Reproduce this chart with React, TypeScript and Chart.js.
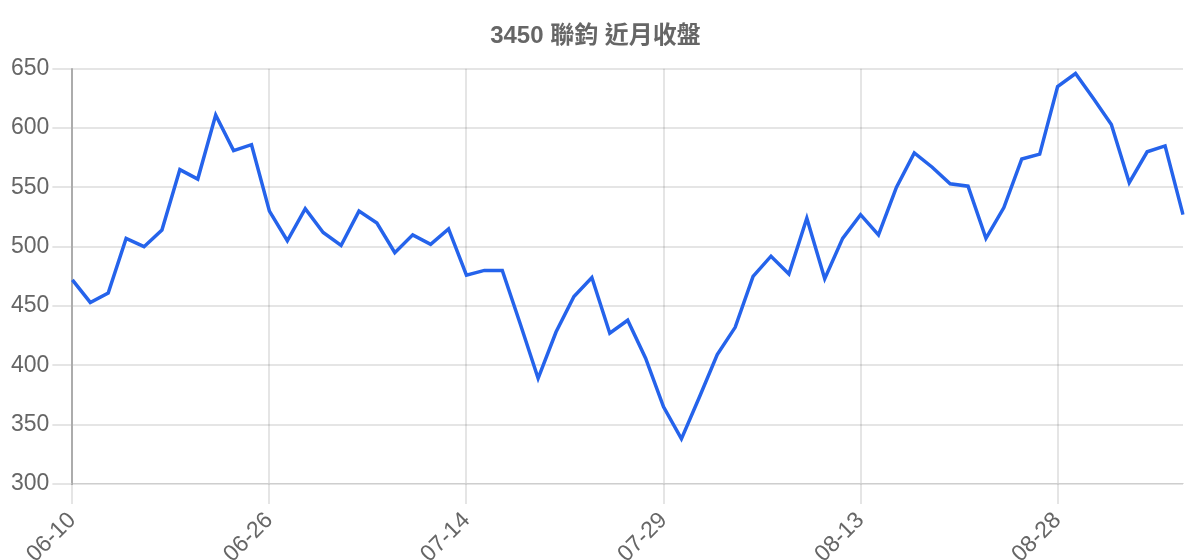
import { useEffect, useRef } from "react";
import Chart from "chart.js/auto";

const title = "3450 聯鈞 近月收盤";

const dates = [
  "06-10", "06-11", "06-12", "06-13", "06-16", "06-17", "06-18", "06-19", "06-20", "06-23", "06-24",
  "06-26", "06-27", "06-30", "07-01", "07-02", "07-03", "07-04", "07-07", "07-08", "07-09", "07-11",
  "07-14", "07-15", "07-16", "07-17", "07-18", "07-21", "07-22", "07-23", "07-24", "07-25", "07-28",
  "07-29", "07-30", "07-31", "08-01", "08-04", "08-05", "08-06", "08-07", "08-08", "08-11", "08-12",
  "08-13", "08-14", "08-15", "08-18", "08-19", "08-20", "08-21", "08-22", "08-25", "08-26", "08-27",
  "08-28", "08-29", "09-01", "09-02", "09-03", "09-04", "09-05", "09-08",
];

const closes = [
  472, 453, 461, 507, 500, 514, 565, 557, 611, 581, 586,
  530, 505, 532, 512, 501, 530, 520, 495, 510, 502, 515,
  476, 480, 480, 435, 389, 428, 458, 474, 427, 438, 406,
  365, 338, 373, 409, 432, 475, 492, 477, 524, 473, 507,
  527, 510, 550, 579, 567, 553, 551, 507, 533, 574, 578,
  635, 646, 625, 603, 554, 580, 585, 527,
];

const yTicks = { min: 300, max: 650, step: 50 };
const labelEvery = 11;

const fontFamily = "Arial, 'Liberation Sans', 'Noto Sans CJK TC', sans-serif";

export default function App() {
  const canvasRef = useRef<HTMLCanvasElement>(null);

  useEffect(() => {
    document.documentElement.style.overflow = "hidden";
    if (!canvasRef.current) return;

    const chart = new Chart(canvasRef.current, {
      type: "line",
      data: {
        labels: dates,
        datasets: [
          {
            label: "收盤",
            data: closes,
            borderColor: "#2563eb",
            backgroundColor: "#2563eb",
            borderWidth: 3.5,
            pointRadius: 0,
            tension: 0,
            fill: false,
          },
        ],
      },
      options: {
        responsive: true,
        maintainAspectRatio: false,
        animation: false,
        layout: { padding: { left: 0, right: 9 } },
        plugins: {
          legend: { display: false },
          tooltip: { enabled: false },
          title: {
            display: true,
            text: title,
            color: "#666",
            padding: { top: 14, bottom: 18 },
            font: { family: fontFamily, size: 24, weight: "bold" },
          },
        },
        scales: {
          x: {
            afterBuildTicks: (scale) => {
              scale.ticks = scale.ticks.filter((_, i) => i % labelEvery === 0);
            },
            grid: { color: "rgba(0,0,0,0.1)", lineWidth: 2, tickLength: 20 },
            ticks: {
              autoSkip: false,
              minRotation: 45,
              maxRotation: 45,
              color: "#666",
              font: { family: fontFamily, size: 23 },
            },
          },
          y: {
            min: yTicks.min,
            max: yTicks.max,
            border: { color: "rgba(0,0,0,0.25)", width: 2 },
            grid: { color: "rgba(0,0,0,0.1)", lineWidth: 2, tickLength: 20 },
            ticks: {
              stepSize: yTicks.step,
              color: "#666",
              font: { family: fontFamily, size: 23 },
            },
          },
        },
      },
    });

    return () => chart.destroy();
  }, []);

  return (
    <div style={{ position: "relative", height: 563 }}>
      <canvas ref={canvasRef} />
    </div>
  );
}
